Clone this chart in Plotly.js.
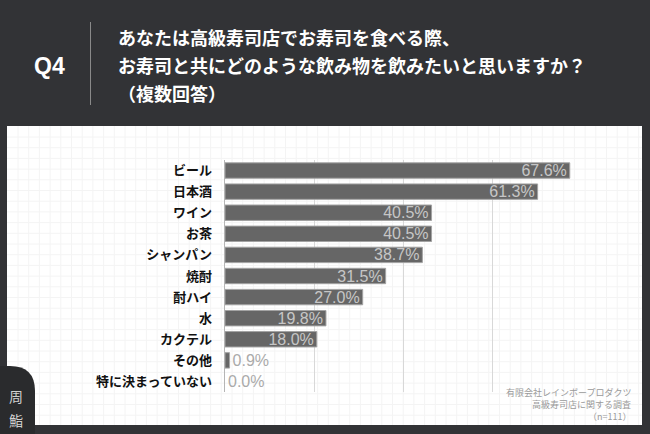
<!DOCTYPE html>
<html>
<head>
<meta charset="utf-8">
<script src="https://cdn.plot.ly/plotly-3.0.1.min.js"></script>
<style>
  html, body { margin: 0; padding: 0; background: #323336; }
  #chart { width: 650px; height: 434px; }
</style>
</head>
<body>
<div id="chart"></div>
<script>
// Q4: drinks wanted with sushi at a high-end sushi restaurant (multiple answers)
const drinks = ['ビール', '日本酒', 'ワイン', 'お茶', 'シャンパン', '焼酎', '酎ハイ', '水', 'カクテル', 'その他', '特に決まっていない'];
const shares = [67.6, 61.3, 40.5, 40.5, 38.7, 31.5, 27.0, 19.8, 18.0, 0.9, 0.0];
const questionLines = [
  'あなたは高級寿司店でお寿司を食べる際、',
  'お寿司と共にどのような飲み物を飲みたいと思いますか？',
  '（複数回答）',
];
const sourceLines = ['有限会社レインボープロダクツ', '高級寿司店に関する調査', '（n=111）'];

const BG = '#323336';
const JP = '"Noto Sans CJK JP", "Noto Sans", sans-serif';
const LATIN = '"Liberation Sans", Arial, sans-serif';

// plot area in pixels: x 225..582, y 160..392
const L = 225, R = 68, T = 160, B = 42, W = 650, H = 434;
const PW = W - L - R, PH = H - T - B;
const fx = (px) => (px - L) / PW;
const fy = (py) => (H - B - py) / PH;

// white panel with a faint square grid
const shapes = [
  { type: 'rect', xref: 'paper', yref: 'paper', layer: 'below',
    x0: fx(7), x1: fx(642), y0: fy(126), y1: fy(425),
    fillcolor: 'white', line: { width: 0 } },
];
for (let x = 18; x < 642; x += 10.7) {
  shapes.push({ type: 'line', xref: 'paper', yref: 'paper', layer: 'below',
    x0: fx(x), x1: fx(x), y0: fy(126), y1: fy(425),
    line: { color: '#f4f4f4', width: 1 } });
}
for (let y = 137; y < 425; y += 10.7) {
  shapes.push({ type: 'line', xref: 'paper', yref: 'paper', layer: 'below',
    x0: fx(7), x1: fx(642), y0: fy(y), y1: fy(y),
    line: { color: '#f4f4f4', width: 1 } });
}
// divider next to "Q4"
shapes.push({ type: 'line', xref: 'paper', yref: 'paper',
  x0: fx(90.5), x1: fx(90.5), y0: fy(22), y1: fy(105),
  line: { color: '#8a8a8a', width: 1 } });
// logo tab, bottom left
shapes.push({ type: 'path', xref: 'paper', yref: 'paper',
  path: `M ${fx(0)},${fy(434)} L ${fx(0)},${fy(366)} L ${fx(10)},${fy(366)} ` +
        `Q ${fx(35)},${fy(366)} ${fx(35)},${fy(391)} L ${fx(35)},${fy(434)} Z`,
  fillcolor: '#2a2b2d', line: { width: 0 } });

const annotations = [
  { text: 'Q4', x: fx(49), y: fy(66), xanchor: 'center', yanchor: 'middle',
    font: { family: LATIN, size: 23, color: 'white', weight: 'bold' } },
  ...questionLines.map((t, i) => ({
    text: t, x: fx(116), y: fy(37 + 28 * i), xanchor: 'left', yanchor: 'middle',
    font: { family: JP, size: 18, color: 'white', weight: 'bold' },
  })),
  ...sourceLines.map((t, i) => ({
    text: t, x: fx(633), y: fy(392 + 12 * i), xanchor: 'right', yanchor: 'middle',
    font: { family: JP, size: 9, color: '#9a9a9a' },
  })),
  { text: '周', x: fx(16), y: fy(396), xanchor: 'center', yanchor: 'middle',
    font: { family: JP, size: 14, color: '#cfcfcf' } },
  { text: '鮨', x: fx(16), y: fy(420), xanchor: 'center', yanchor: 'middle',
    font: { family: JP, size: 14, color: '#cfcfcf' } },
].map((a) => ({ xref: 'paper', yref: 'paper', showarrow: false, ...a }));

const small = shares.map((v) => v < 5);

const trace = {
  type: 'bar',
  orientation: 'h',
  y: drinks,
  x: shares,
  marker: {
    color: '#666666',
    line: { color: '#a3a3a3', width: shares.map((v) => (v > 0 ? 1 : 0)) },
  },
  texttemplate: '%{x:.1f}%',
  textposition: small.map((s) => (s ? 'outside' : 'inside')),
  insidetextanchor: 'end',
  constraintext: 'none',
  cliponaxis: false,
  textfont: {
    family: LATIN,
    size: 16,
    color: small.map((s) => (s ? '#aaaaaa' : '#c6c6c6')),
  },
  hoverinfo: 'skip',
};

const layout = {
  width: W,
  height: H,
  margin: { l: L, r: R, t: T, b: B, pad: 0 },
  paper_bgcolor: BG,
  plot_bgcolor: 'rgba(0,0,0,0)',
  showlegend: false,
  bargap: 0.27,
  xaxis: {
    range: [0, 70],
    dtick: 17.5,
    showticklabels: false,
    showgrid: true,
    gridcolor: '#d8d8d8',
    gridwidth: 1,
    zeroline: false,
    fixedrange: true,
  },
  yaxis: {
    autorange: 'reversed',
    showgrid: false,
    zeroline: false,
    showline: true,
    linecolor: '#b5b5b5',
    linewidth: 1.5,
    ticks: 'outside',
    ticklen: 9,
    tickcolor: 'rgba(0,0,0,0)',
    tickfont: { family: JP, size: 13, color: '#111111', weight: 'bold' },
    fixedrange: true,
  },
  shapes,
  annotations,
};

Plotly.newPlot('chart', [trace], layout, { displayModeBar: false, staticPlot: true });
</script>
</body>
</html>
